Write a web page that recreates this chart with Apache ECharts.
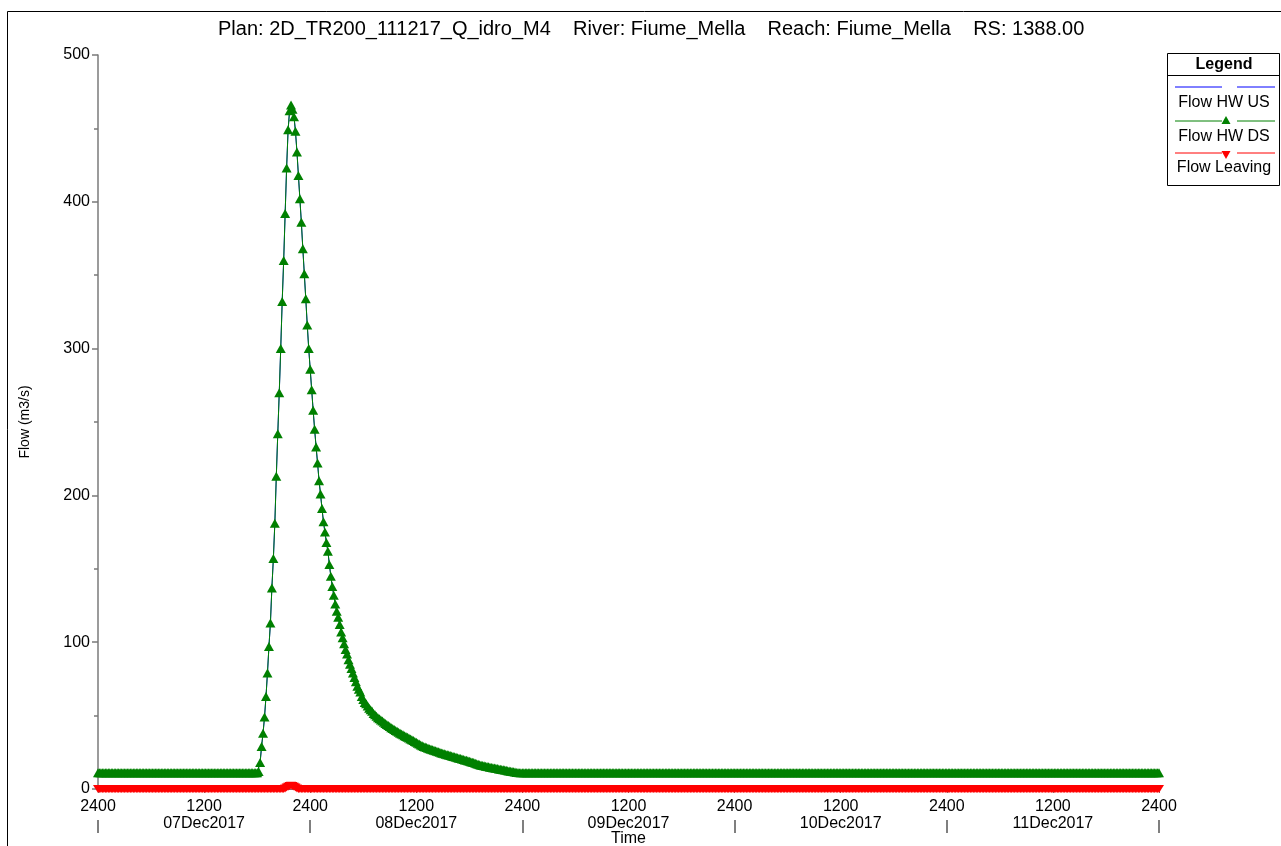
<!DOCTYPE html>
<html>
<head>
<meta charset="utf-8">
<title>Flow HW - Fiume_Mella RS 1388.00</title>
<script src="https://cdn.jsdelivr.net/npm/echarts@6/dist/echarts.min.js"></script>
<style>
  html, body { margin: 0; padding: 0; background: #fff; }
  #main { width: 1281px; height: 846px; }
</style>
</head>
<body>
<div id="main"></div>
<script>
// one value every 10 minutes, starting 07Dec2017 0000
const stepHours = 1 / 6
const dayNames = ['07Dec2017', '08Dec2017', '09Dec2017', '10Dec2017', '11Dec2017']
const titleText = 'Plan: 2D_TR200_111217_Q_idro_M4    River: Fiume_Mella    Reach: Fiume_Mella    RS: 1388.00'

// Flow HW DS (m3/s), the US curve lies on top of it
const flowDs07 = [
  11, 11, 11, 11, 11, 11, 11, 11, 11, 11, 11, 11,
  11, 11, 11, 11, 11, 11, 11, 11, 11, 11, 11, 11,
  11, 11, 11, 11, 11, 11, 11, 11, 11, 11, 11, 11,
  11, 11, 11, 11, 11, 11, 11, 11, 11, 11, 11, 11,
  11, 11, 11, 11, 11, 11, 11, 11, 11, 11, 11, 11,
  11, 11, 11, 11, 11, 11, 11, 11, 11, 11, 11, 11,
  11, 11, 11, 11, 11, 11, 11, 11, 11, 11, 11, 11,
  11, 11, 11, 11, 11, 11, 11, 11, 11, 11, 11, 11,
  11, 11, 11, 11, 11, 11, 11, 11, 11, 11, 11, 11,
  11, 12, 18, 29, 38, 49, 63, 79, 97, 113, 137, 157,
  181, 213, 242, 270, 300, 332, 360, 392, 423, 449, 462, 466,
  463, 458, 448, 434, 418, 402, 386, 368, 351, 334, 316, 300
]
const flowDs08 = [
  286, 272, 258, 245, 233, 222, 210, 201, 191, 182, 175, 168,
  162, 153, 145, 138, 132, 126, 121, 117, 112, 107, 103, 99,
  95, 92, 88, 85, 82, 79, 76, 73, 70, 68, 66, 63,
  61, 59, 58, 56.5, 55, 54, 53, 51.5, 50.5, 49.5, 48.5, 47.8,
  47, 46.3, 45.5, 44.7, 44, 43.2, 42.5, 41.8, 41.2, 40.5, 39.9, 39.3,
  38.7, 38, 37.5, 36.9, 36.3, 35.8, 35.3, 34.7, 34.1, 33.5, 33, 32.4,
  31.8, 31.2, 30.6, 30, 29.4, 29, 28.6, 28.2, 27.8, 27.5, 27.1, 26.7,
  26.4, 26, 25.7, 25.3, 25, 24.6, 24.3, 24, 23.7, 23.4, 23.1, 22.8,
  22.5, 22.2, 21.9, 21.6, 21.3, 21, 20.7, 20.4, 20.1, 19.8, 19.5, 19.2,
  18.9, 18.6, 18.3, 18, 17.6, 17.2, 16.8, 16.5, 16.2, 16, 15.8, 15.5,
  15.3, 15.1, 14.9, 14.7, 14.5, 14.3, 14.1, 13.9, 13.7, 13.5, 13.3, 13.1,
  12.9, 12.7, 12.5, 12.3, 12.1, 11.9, 11.7, 11.5, 11.3, 11.2, 11.1, 11
]
const flowDs09 = [
  11, 11, 11, 11, 11, 11, 11, 11, 11, 11, 11, 11,
  11, 11, 11, 11, 11, 11, 11, 11, 11, 11, 11, 11,
  11, 11, 11, 11, 11, 11, 11, 11, 11, 11, 11, 11,
  11, 11, 11, 11, 11, 11, 11, 11, 11, 11, 11, 11,
  11, 11, 11, 11, 11, 11, 11, 11, 11, 11, 11, 11,
  11, 11, 11, 11, 11, 11, 11, 11, 11, 11, 11, 11,
  11, 11, 11, 11, 11, 11, 11, 11, 11, 11, 11, 11,
  11, 11, 11, 11, 11, 11, 11, 11, 11, 11, 11, 11,
  11, 11, 11, 11, 11, 11, 11, 11, 11, 11, 11, 11,
  11, 11, 11, 11, 11, 11, 11, 11, 11, 11, 11, 11,
  11, 11, 11, 11, 11, 11, 11, 11, 11, 11, 11, 11,
  11, 11, 11, 11, 11, 11, 11, 11, 11, 11, 11, 11
]
const flowDs10 = [
  11, 11, 11, 11, 11, 11, 11, 11, 11, 11, 11, 11,
  11, 11, 11, 11, 11, 11, 11, 11, 11, 11, 11, 11,
  11, 11, 11, 11, 11, 11, 11, 11, 11, 11, 11, 11,
  11, 11, 11, 11, 11, 11, 11, 11, 11, 11, 11, 11,
  11, 11, 11, 11, 11, 11, 11, 11, 11, 11, 11, 11,
  11, 11, 11, 11, 11, 11, 11, 11, 11, 11, 11, 11,
  11, 11, 11, 11, 11, 11, 11, 11, 11, 11, 11, 11,
  11, 11, 11, 11, 11, 11, 11, 11, 11, 11, 11, 11,
  11, 11, 11, 11, 11, 11, 11, 11, 11, 11, 11, 11,
  11, 11, 11, 11, 11, 11, 11, 11, 11, 11, 11, 11,
  11, 11, 11, 11, 11, 11, 11, 11, 11, 11, 11, 11,
  11, 11, 11, 11, 11, 11, 11, 11, 11, 11, 11, 11
]
const flowDs11 = [
  11, 11, 11, 11, 11, 11, 11, 11, 11, 11, 11, 11,
  11, 11, 11, 11, 11, 11, 11, 11, 11, 11, 11, 11,
  11, 11, 11, 11, 11, 11, 11, 11, 11, 11, 11, 11,
  11, 11, 11, 11, 11, 11, 11, 11, 11, 11, 11, 11,
  11, 11, 11, 11, 11, 11, 11, 11, 11, 11, 11, 11,
  11, 11, 11, 11, 11, 11, 11, 11, 11, 11, 11, 11,
  11, 11, 11, 11, 11, 11, 11, 11, 11, 11, 11, 11,
  11, 11, 11, 11, 11, 11, 11, 11, 11, 11, 11, 11,
  11, 11, 11, 11, 11, 11, 11, 11, 11, 11, 11, 11,
  11, 11, 11, 11, 11, 11, 11, 11, 11, 11, 11, 11,
  11, 11, 11, 11, 11, 11, 11, 11, 11, 11, 11, 11,
  11, 11, 11, 11, 11, 11, 11, 11, 11, 11, 11, 11,
  11
]

// Flow Leaving (m3/s)
const leave07 = [
  0, 0, 0, 0, 0, 0, 0, 0, 0, 0, 0, 0,
  0, 0, 0, 0, 0, 0, 0, 0, 0, 0, 0, 0,
  0, 0, 0, 0, 0, 0, 0, 0, 0, 0, 0, 0,
  0, 0, 0, 0, 0, 0, 0, 0, 0, 0, 0, 0,
  0, 0, 0, 0, 0, 0, 0, 0, 0, 0, 0, 0,
  0, 0, 0, 0, 0, 0, 0, 0, 0, 0, 0, 0,
  0, 0, 0, 0, 0, 0, 0, 0, 0, 0, 0, 0,
  0, 0, 0, 0, 0, 0, 0, 0, 0, 0, 0, 0,
  0, 0, 0, 0, 0, 0, 0, 0, 0, 0, 0, 0,
  0, 0, 0, 0, 0, 0, 0, 0, 0, 0, 0, 0,
  0, 0, 0, 0, 0, 0, 0, 0.4, 1.0, 1.6, 2.0, 2.2,
  2.0, 1.6, 1.0, 0.4, 0, 0, 0, 0, 0, 0, 0, 0
]
const leave08 = [
  0, 0, 0, 0, 0, 0, 0, 0, 0, 0, 0, 0,
  0, 0, 0, 0, 0, 0, 0, 0, 0, 0, 0, 0,
  0, 0, 0, 0, 0, 0, 0, 0, 0, 0, 0, 0,
  0, 0, 0, 0, 0, 0, 0, 0, 0, 0, 0, 0,
  0, 0, 0, 0, 0, 0, 0, 0, 0, 0, 0, 0,
  0, 0, 0, 0, 0, 0, 0, 0, 0, 0, 0, 0,
  0, 0, 0, 0, 0, 0, 0, 0, 0, 0, 0, 0,
  0, 0, 0, 0, 0, 0, 0, 0, 0, 0, 0, 0,
  0, 0, 0, 0, 0, 0, 0, 0, 0, 0, 0, 0,
  0, 0, 0, 0, 0, 0, 0, 0, 0, 0, 0, 0,
  0, 0, 0, 0, 0, 0, 0, 0, 0, 0, 0, 0,
  0, 0, 0, 0, 0, 0, 0, 0, 0, 0, 0, 0
]
const leave09 = leave08.slice()
const leave10 = leave08.slice()
const leave11 = leave08.concat([0])

const flowDs = flowDs07.concat(flowDs08, flowDs09, flowDs10, flowDs11)
const flowUs = flowDs
const flowLeaving = leave07.concat(leave08, leave09, leave10, leave11)

const fontFamily = '"Liberation Sans", Arial, sans-serif'
const axisGrey = '#7a7a7a'

// index -> [hours since start, value]
const toPoints = function (vals) {
  return vals.map((v, i) => [i * stepHours, v])
}

const chart = echarts.init(document.getElementById('main'))

const option = {
  animation: false,
  backgroundColor: '#fff',
  title: {
    text: titleText,
    left: 218,
    top: 19,
    padding: 0,
    textStyle: { fontFamily: fontFamily, fontSize: 20, fontWeight: 'normal', color: '#000' }
  },
  grid: { left: 98, right: 122, top: 55, bottom: 57, outerBoundsMode: 'none', containLabel: false },
  xAxis: [{
    type: 'value',
    min: 0,
    max: 120,
    interval: 12,
    name: 'Time',
    nameLocation: 'middle',
    nameGap: 41,
    nameMoveOverlap: false,
    nameTextStyle: { fontFamily: fontFamily, fontSize: 16, color: '#000', lineHeight: 17 },
    axisLine: { show: true, lineStyle: { color: axisGrey } },
    axisTick: { show: true, length: 4, lineStyle: { color: axisGrey } },
    axisLabel: {
      margin: 9,
      fontFamily: fontFamily,
      fontSize: 16,
      lineHeight: 17,
      color: '#000',
      showMinLabel: true,
      showMaxLabel: true,
      formatter: function (v) {
        if (v % 24 === 0) return '2400'
        return '1200\n' + dayNames[(v - 12) / 24]
      }
    },
    splitLine: { show: false }
  }, {
    // day separators under the labels
    type: 'value',
    min: 0,
    max: 120,
    interval: 24,
    position: 'bottom',
    offset: 31,
    axisLine: { show: false },
    axisTick: { show: true, length: 13, lineStyle: { color: '#555', width: 1.5 } },
    axisLabel: { show: false },
    splitLine: { show: false }
  }],
  yAxis: {
    type: 'value',
    min: 0,
    max: 500,
    interval: 100,
    name: 'Flow (m3/s)',
    nameLocation: 'middle',
    nameGap: 66,
    nameMoveOverlap: false,
    nameTextStyle: { fontFamily: fontFamily, fontSize: 14, color: '#000' },
    axisLine: { show: true, lineStyle: { color: axisGrey, width: 1.5 } },
    axisTick: { show: true, length: 6, lineStyle: { color: axisGrey, width: 1.5 } },
    minorTick: { show: true, splitNumber: 2, length: 4, lineStyle: { color: axisGrey, width: 1.5 } },
    axisLabel: { margin: 8, fontFamily: fontFamily, fontSize: 16, color: '#000' },
    splitLine: { show: false }
  },
  series: [{
    name: 'Flow HW US',
    type: 'line',
    data: toPoints(flowUs),
    showSymbol: false,
    lineStyle: { color: '#0000ff', width: 1 },
    z: 2
  }, {
    name: 'Flow HW DS',
    type: 'line',
    data: toPoints(flowDs),
    symbol: 'triangle',
    symbolSize: [10, 9],
    showAllSymbol: true,
    sampling: 'none',
    itemStyle: { color: '#008000' },
    lineStyle: { color: '#008000', width: 1 },
    z: 3
  }, {
    name: 'Flow Leaving',
    type: 'line',
    data: toPoints(flowLeaving),
    symbol: 'triangle',
    symbolRotate: 180,
    symbolSize: [10, 8],
    showAllSymbol: true,
    sampling: 'none',
    itemStyle: { color: '#ff0000' },
    lineStyle: { color: '#ff0000', width: 1 },
    z: 4
  }],
  graphic: [
    // outer frame
    { type: 'rect', shape: { x: 7.5, y: 11.5, width: 1300, height: 860 }, style: { fill: 'none', stroke: '#000', lineWidth: 1 }, silent: true },
    // legend box
    { type: 'rect', shape: { x: 1167.5, y: 53.5, width: 112, height: 132 }, style: { fill: '#fff', stroke: '#000', lineWidth: 1 }, z: 10 },
    { type: 'line', shape: { x1: 1167.5, y1: 75.5, x2: 1279.5, y2: 75.5 }, style: { stroke: '#000', lineWidth: 1 }, z: 11 },
    { type: 'text', x: 1224, y: 65, style: { text: 'Legend', fontFamily: fontFamily, fontSize: 16, fontWeight: 'bold', fill: '#000', align: 'center', verticalAlign: 'middle' }, z: 11 },
    { type: 'line', shape: { x1: 1175, y1: 87, x2: 1222, y2: 87 }, style: { stroke: '#0000ff', lineWidth: 1 }, z: 11 },
    { type: 'line', shape: { x1: 1237, y1: 87, x2: 1275, y2: 87 }, style: { stroke: '#0000ff', lineWidth: 1 }, z: 11 },
    { type: 'text', x: 1224, y: 103, style: { text: 'Flow HW US', fontFamily: fontFamily, fontSize: 16, fill: '#000', align: 'center', verticalAlign: 'middle' }, z: 11 },
    { type: 'line', shape: { x1: 1175, y1: 121, x2: 1222, y2: 121 }, style: { stroke: '#008000', lineWidth: 1 }, z: 11 },
    { type: 'line', shape: { x1: 1237, y1: 121, x2: 1275, y2: 121 }, style: { stroke: '#008000', lineWidth: 1 }, z: 11 },
    { type: 'polygon', shape: { points: [[1226, 116], [1230.5, 124], [1221.5, 124]] }, style: { fill: '#008000' }, z: 11 },
    { type: 'text', x: 1224, y: 137, style: { text: 'Flow HW DS', fontFamily: fontFamily, fontSize: 16, fill: '#000', align: 'center', verticalAlign: 'middle' }, z: 11 },
    { type: 'line', shape: { x1: 1175, y1: 153, x2: 1222, y2: 153 }, style: { stroke: '#ff0000', lineWidth: 1 }, z: 11 },
    { type: 'line', shape: { x1: 1237, y1: 153, x2: 1275, y2: 153 }, style: { stroke: '#ff0000', lineWidth: 1 }, z: 11 },
    { type: 'polygon', shape: { points: [[1221.5, 151], [1230.5, 151], [1226, 159]] }, style: { fill: '#ff0000' }, z: 11 },
    { type: 'text', x: 1224, y: 168, style: { text: 'Flow Leaving', fontFamily: fontFamily, fontSize: 16, fill: '#000', align: 'center', verticalAlign: 'middle' }, z: 11 }
  ]
}

chart.setOption(option)
</script>
</body>
</html>
